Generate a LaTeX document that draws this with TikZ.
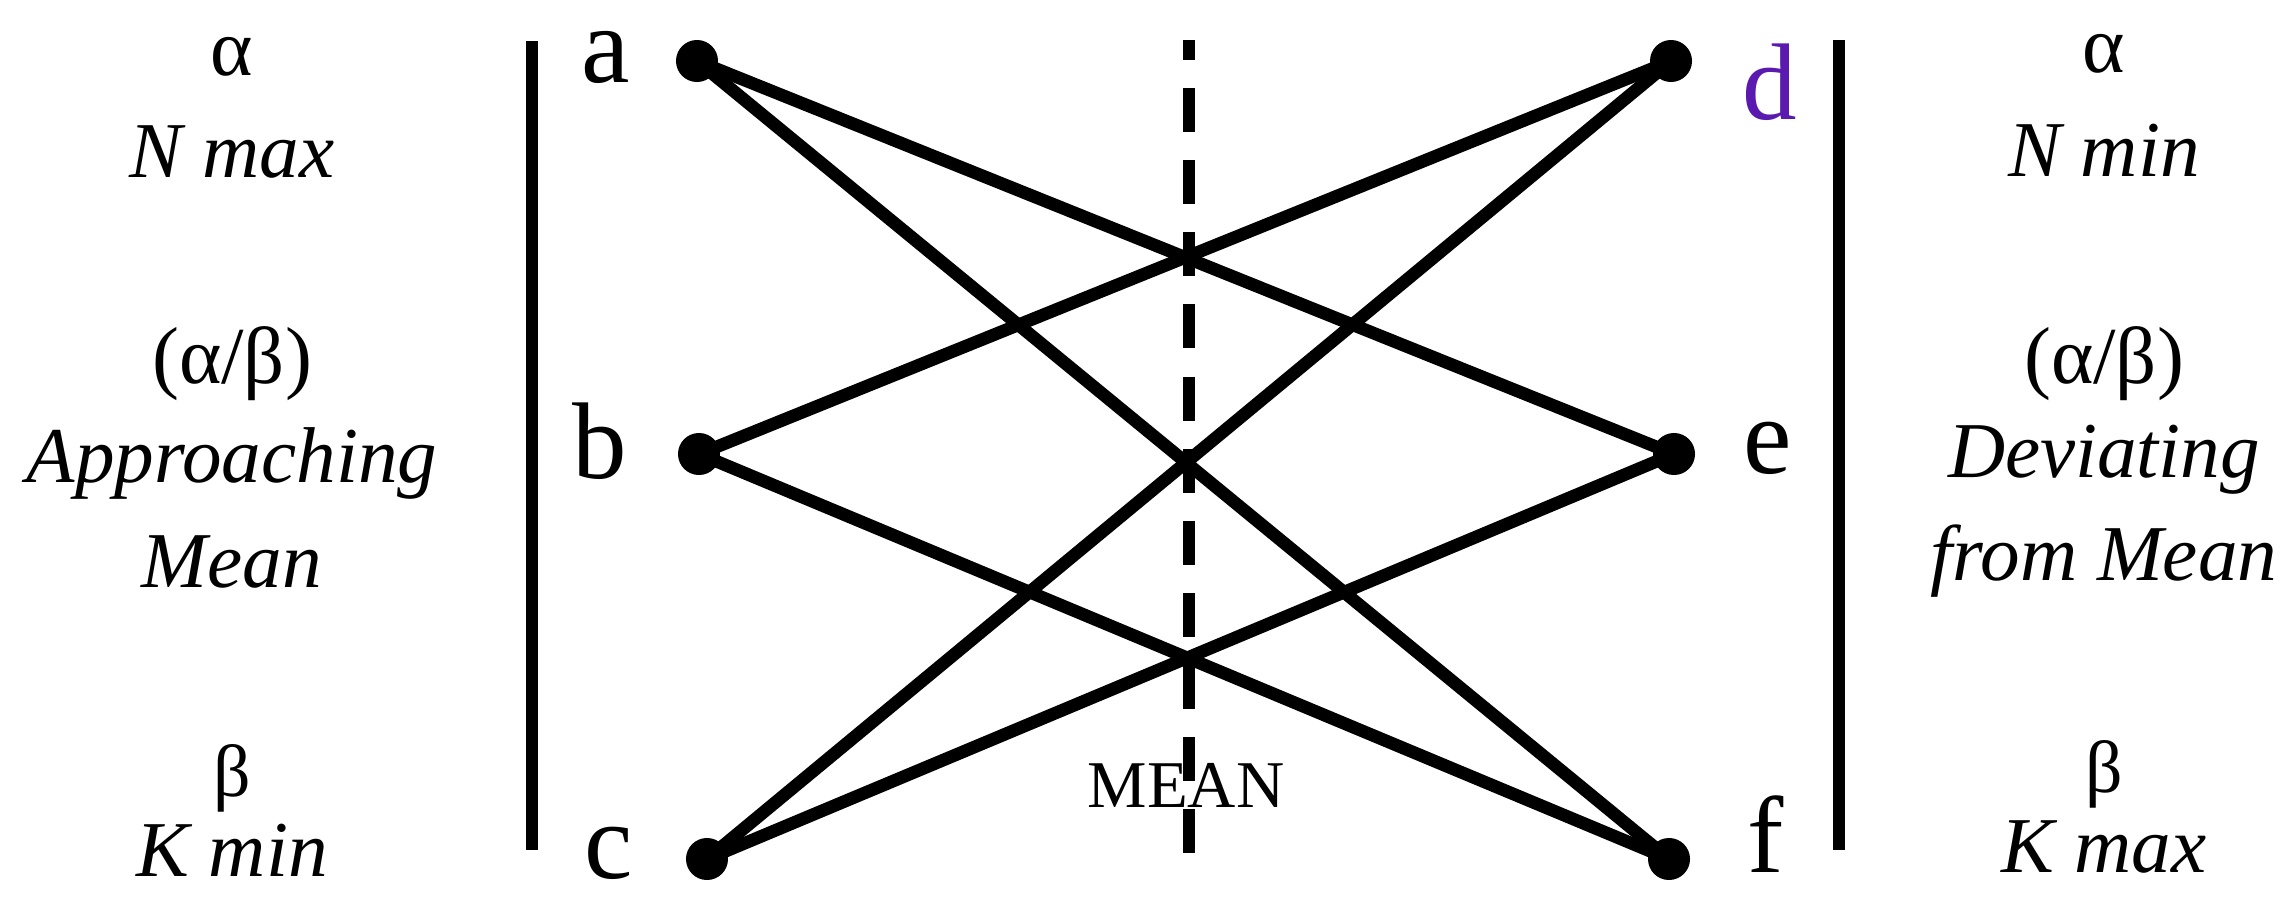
\documentclass[tikz,border=0pt]{standalone}
\usepackage{fontspec}
\setmainfont{Liberation Serif}
\definecolor{dpurple}{RGB}{90,25,175}
\begin{document}
\begin{tikzpicture}[x=0.01cm,y=-0.01cm,
  dot/.style={circle,fill=black,inner sep=0pt,minimum size=0.42cm},
  lbl/.style={anchor=base,inner sep=0pt,font=\fontsize{31}{31}\selectfont},
  side/.style={anchor=base,inner sep=0pt,font=\fontsize{23}{28}\selectfont},
  sidei/.style={anchor=base,inner sep=0pt,font=\fontsize{22.5}{28}\selectfont\itshape},
  sidesmall/.style={anchor=base,inner sep=0pt,font=\fontsize{21}{24}\selectfont},
  link/.style={line width=3.6pt},
  bar/.style={line width=3.4pt},
  meanline/.style={line width=3.4pt,dash pattern=on 12.5pt off 8pt,dash phase=6.8pt}]
\fill[white] (0,0) rectangle (2284,921);
\useasboundingbox (0,0) rectangle (2284,921);

% left texts
\node[side]      (la1) at (232,75)  {α};
\node[sidei]     (la2) at (232,177) {N max};
\node[side]      (lm1) at (232,383) {(α/β)};
\node[sidei]     (lm2) at (232,482) {Approaching};
\node[sidei]     (lm3) at (232,587) {Mean};
\node[sidesmall] (lb1) at (232,796) {β};
\node[sidei]     (lb2) at (232,876) {K min};

% right texts
\node[side]      (ra1) at (2104,72)  {α};
\node[sidei]     (ra2) at (2104,176) {N min};
\node[side]      (rm1) at (2104,383) {(α/β)};
\node[sidei]     (rm2) at (2104,477) {Deviating};
\node[sidei]     (rm3) at (2104,580) {from Mean};
\node[sidesmall] (rb1) at (2104,792) {β};
\node[sidei]     (rb2) at (2104,872) {K max};

% bars
\coordinate (lbt) at (532,41);
\coordinate (lbb) at (532,850);
\coordinate (rbt) at (1839,40);
\coordinate (rbb) at (1839,850);
\draw[bar] (lbt) -- (lbb);
\draw[bar] (rbt) -- (rbb);

% mean line
\coordinate (mtop) at (1189,40);
\coordinate (mbot) at (1189,860);
\draw[meanline] (mtop) -- (mbot);
\node[anchor=base,inner sep=0pt,font=\fontsize{19}{19}\selectfont] (meanlbl) at (1186,807) {MEAN};

% dots
\node[dot] (a) at (697,61) {};
\node[dot] (b) at (699,454) {};
\node[dot] (c) at (707,859) {};
\node[dot] (d) at (1671,61) {};
\node[dot] (e) at (1674,454) {};
\node[dot] (f) at (1669,859) {};

% dot labels
\node[lbl] (la) at (606,82) {a};
\node[lbl] (lb) at (600,478) {b};
\node[lbl] (lc) at (609,878) {c};
\node[lbl,text=dpurple] (ld) at (1770,120) {d};
\node[lbl] (le) at (1768,473) {e};
\node[lbl] (lf) at (1766,872) {f};

% connectors
\draw[link] (a.center) -- (e.center);
\draw[link] (a.center) -- (f.center);
\draw[link] (b.center) -- (d.center);
\draw[link] (b.center) -- (f.center);
\draw[link] (c.center) -- (d.center);
\draw[link] (c.center) -- (e.center);
\end{tikzpicture}
\end{document}
